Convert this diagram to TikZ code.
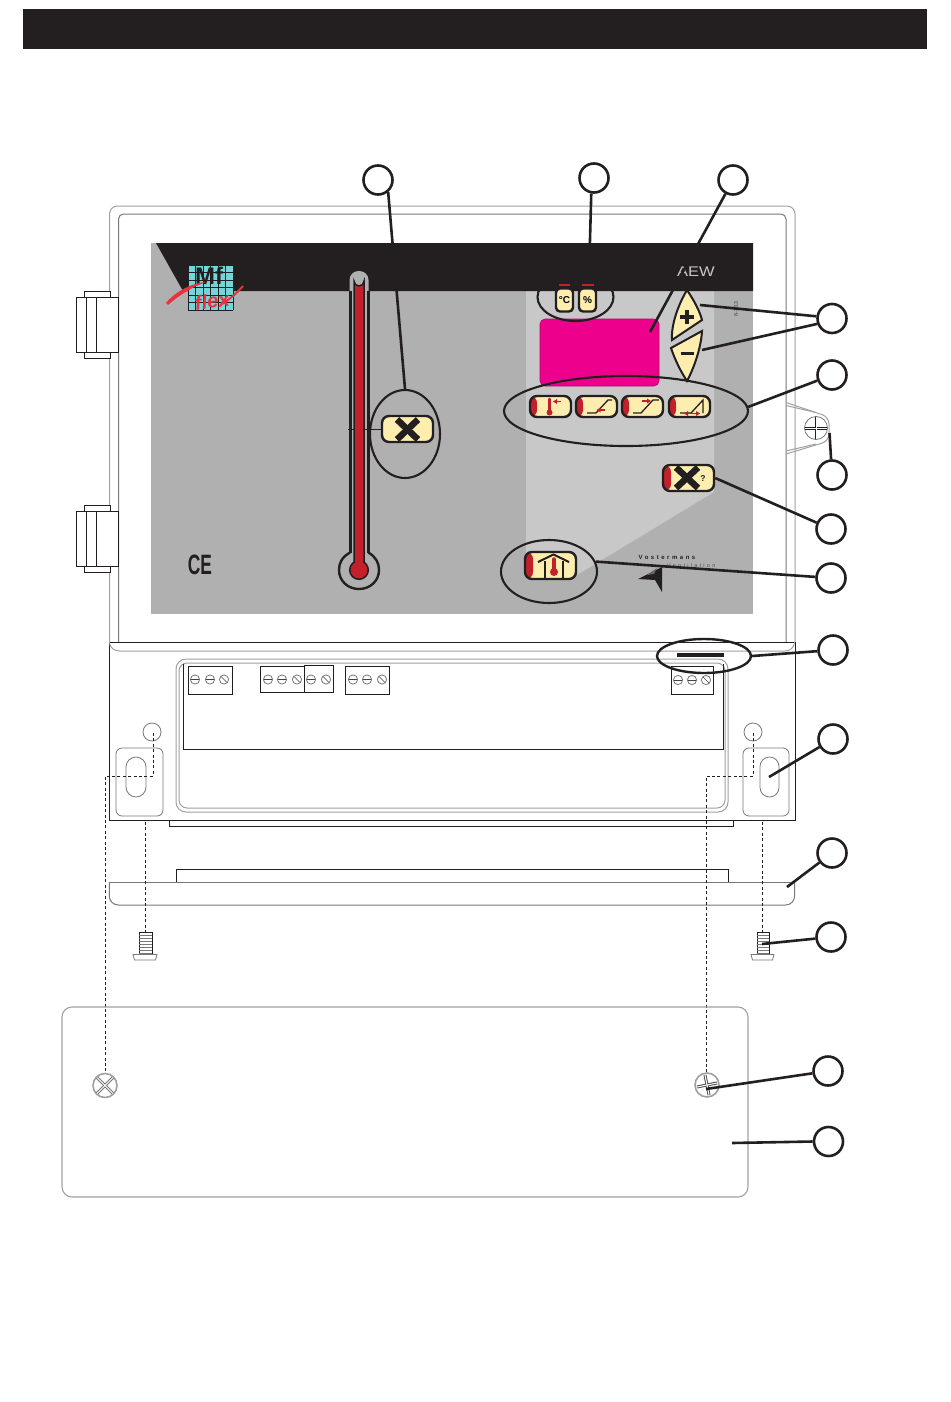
\documentclass[tikz,border=0pt]{standalone}
\usepackage{fontspec}
\setmainfont{Liberation Sans}
\newfontfamily\spaced[LetterSpace=42]{Liberation Sans Bold}
\newfontfamily\spacedlight[LetterSpace=40]{Liberation Sans}
\usetikzlibrary{shapes.geometric,calc}
\definecolor{ink}{HTML}{231F20}
\definecolor{panelgrey}{HTML}{B0B0B0}
\definecolor{panellight}{HTML}{C8C8C8}
\definecolor{btnyellow}{HTML}{FDEEB0}
\definecolor{btnred}{HTML}{C4202C}
\definecolor{logored}{HTML}{E8333F}
\definecolor{logocyan}{HTML}{74D6D8}
\definecolor{lcd}{HTML}{EC008C}
\definecolor{edgegrey}{HTML}{A0A0A0}
\definecolor{edgedark}{HTML}{787878}
\tikzset{
  callout/.style={circle,draw=ink,line width=2.6pt,minimum size=29pt,inner sep=0pt,fill=white},
  lead/.style={draw=ink,line width=2.6pt},
  ring/.style={ellipse,draw=ink,line width=2.1pt,inner sep=0pt},
  btn/.style={draw=ink,line width=2.4pt,fill=btnyellow,rounded corners=7pt,inner sep=0pt},
  redleft/.style={path picture={\fill[btnred] (path picture bounding box.south west) rectangle ([xshift=#1]path picture bounding box.north west);}},
  thin edge/.style={draw=edgegrey,line width=1pt},
  dark edge/.style={draw=edgedark,line width=1pt},
  blackline/.style={draw=ink,line width=.95pt},
  hidden/.style={draw=ink,line width=1pt,dash pattern=on 3pt off 2.4pt},
  block/.style={draw=ink,line width=.95pt,fill=white},
  tscrew/.style={draw=edgedark,line width=.8pt},
  ramp/.style={draw=ink,line width=1.3pt},
  redarrow/.style={draw=btnred,line width=1.2pt},
}
\newcommand\tscr[3]{% x, y, angle of slot
  \draw[tscrew] (#1,#2) circle (4.6);
  \draw[draw=ink!85,line width=.6pt] ($(#1,#2)+(#3:-4)$) -- ($(#1,#2)+(#3:4)$);
}
\newcommand\hatchscrew[4]{% body x1 x2, head x1 x2
  \draw[blackline,fill=white] (#1,932) rectangle (#2,954);
  \foreach \yy in {935,938,...,953} \draw[draw=edgedark,line width=.7pt] (#1,\yy) -- (#2,\yy);
  \draw[dark edge,line width=.8pt] (#3,954.5) -- (#4,954.5) -- (#4-1.5,960) -- (#3+1.5,960) -- cycle;
}
\begin{document}
\begin{tikzpicture}[x=1pt,y=-1pt]
\useasboundingbox (0,0) rectangle (950,1402);
\fill[white] (0,0) rectangle (950,1402);
% title bar
\fill[ink] (23,9) rectangle (927,49);

% door
\draw[thin edge,rounded corners=8pt] (109.5,642) -- (109.5,206) -- (795,206) -- (795,642);
\draw[dark edge,rounded corners=5pt] (118.5,642) -- (118.5,214) -- (786,214) -- (786,642);

% latch
\draw[thin edge,rounded corners=7pt] (786,402.5) -- (829,417) -- (829,441) -- (786,454);
\draw[thin edge] (786,405.5) -- (816,412.5);
\draw[thin edge] (786,451) -- (816,444);

% hinges
\foreach \hy in {297,511}{
  \draw[blackline,fill=white] (84,\hy-6) rectangle (110,\hy+61);
  \draw[blackline,fill=white] (76,\hy) rectangle (118.5,\hy+55);
  \draw[blackline] (86,\hy) -- (86,\hy+55);
  \draw[blackline] (96,\hy) -- (96,\hy+55);
}

% panel
\fill[panelgrey] (151,243) rectangle (753,614);
\fill[panellight] (526,291) -- (714,291) -- (714,492) -- (577,575) -- (526,575) -- cycle;
\fill[ink] (156,243) -- (753,243) -- (753,291) -- (183,291) -- cycle;

% logo
\fill[logocyan] (188,265) rectangle (233,310);
\foreach \g in {0,...,6}{
  \draw[draw=ink,line width=.8pt] (188+\g*7.5,265) -- (188+\g*7.5,310);
  \draw[draw=ink,line width=.8pt] (188,265+\g*7.5) -- (233,265+\g*7.5);
}
\node[inner sep=0pt,text=ink] (mf) at (209,276) {\fontsize{24}{24}\selectfont\bfseries Mf};
\fill[logored] (166,303) .. controls (176,291) and (192,283) .. (206,282) .. controls (192,287) and (178,296) .. (168,305) -- cycle;
\node[inner sep=0pt,text=logored,rotate=8] (flex) at (212,301) {\fontsize{20}{20}\selectfont\bfseries\itshape flex};
\draw[draw=logored,line width=2pt] (222,304) .. controls (230,299) and (237,293) .. (243,286);

% AEW, code
\node[inner sep=0pt,text=panellight] (aew) at (696,272) {\scalebox{1.18}[1]{\fontsize{14}{14}\selectfont AEW}};
\node[inner sep=0pt,text=ink!70,rotate=90] (code) at (736,309) {\fontsize{5.5}{5.5}\selectfont\bfseries 8-3/13};

% display
\node[rectangle,rounded corners=5pt,fill=lcd,draw=lcd!80!black,line width=.6pt,minimum width=119pt,minimum height=67pt,inner sep=0pt] (lcdscr) at (599.5,352.5) {};
\coordinate (lcdpt) at (650,332);

% thermometer
\fill[panelgrey,rounded corners=9pt] (349.5,271) -- (368.5,271) -- (368.5,300) -- (349.5,300) -- cycle;
\fill[panelgrey] (349.5,295) rectangle (368.5,560);
\draw[draw=ink,line width=3pt] (350,291) -- (350,553);
\draw[draw=ink,line width=3pt] (368.5,291) -- (368.5,553);
\fill[panelgrey] (359,570) circle (18);
\fill[panelgrey] (351.5,545) rectangle (367,560);
\draw[draw=ink,line width=2.4pt] (350,552.6) .. controls (342,557) and (339,563) .. (339,570) .. controls (339,581) and (348,589) .. (359,589) .. controls (370,589) and (379,581) .. (379,570) .. controls (379,563) and (376,557) .. (368.5,552.6);
\draw[draw=ink,line width=1.5pt,fill=btnred] (354,562) -- (354,281) arc[start angle=180,end angle=0,radius=5] -- (364,562);
\filldraw[draw=ink,line width=1.5pt,fill=btnred] (359,570) circle (9.3);
\fill[btnred] (354.8,555) rectangle (363.2,566);
\draw[draw=ink,line width=1.5pt] (348,429.5) -- (353.5,429.5);
\draw[draw=ink,line width=1.5pt] (364.5,429.5) -- (384,429.5);

% fan button
\node[btn,minimum width=51pt,minimum height=26pt] (bfan) at (407.5,429) {};
\draw[draw=ink,line width=6.5pt] (397,419.5) -- (418,439.5);
\draw[draw=ink,line width=6.5pt] (418,419.5) -- (397,439.5);
\node[ring,minimum width=70pt,minimum height=88pt] (efan) at (405,434) {};

% C and % buttons
\draw[draw=btnred,line width=1.6pt] (559,285) -- (570,285);
\draw[draw=btnred,line width=1.6pt] (582,285) -- (594,285);
\node[btn,minimum width=17pt,minimum height=23pt,rounded corners=4pt] (bc) at (564.5,300) {\fontsize{10}{10}\selectfont\bfseries °C};
\node[btn,minimum width=17pt,minimum height=23pt,rounded corners=4pt] (bp) at (587.5,300) {\fontsize{10}{10}\selectfont\bfseries\%};
\begin{scope}
\clip (530,291) rectangle (620,330);
\node[ring,minimum width=76pt,minimum height=48pt] (ecf) at (575.5,297) {};
\end{scope}

% plus, minus
\draw[draw=ink,line width=2pt,fill=btnyellow] (687,290) .. controls (695,302) and (700,312) .. (702,320) -- (672,340) .. controls (671,325) and (678,305) .. (687,290) -- cycle;
\draw[draw=ink,line width=3.6pt] (680,317) -- (694,317);
\draw[draw=ink,line width=3.6pt] (687,310) -- (687,324);
\draw[draw=ink,line width=2pt,fill=btnyellow] (702,331) -- (671,348) .. controls (675,360) and (681,372) .. (687,381) .. controls (694,368) and (701,348) .. (702,331) -- cycle;
\draw[draw=ink,line width=3.2pt] (680.5,353.5) -- (693.5,353.5);
\coordinate (pluspt) at (700,305);
\coordinate (minuspt) at (702,350);

% mode buttons
\node[btn,redleft=7pt,minimum width=41pt,minimum height=21pt] (m1) at (550.5,406.5) {};
\node[btn,redleft=7pt,minimum width=41pt,minimum height=21pt] (m2) at (596.5,406.5) {};
\node[btn,redleft=7pt,minimum width=41pt,minimum height=21pt] (m3) at (642.5,406.5) {};
\node[btn,redleft=7pt,minimum width=41pt,minimum height=21pt] (m4) at (689.5,406.5) {};
% icons
\draw[draw=btnred,line width=2.6pt,line cap=round] (549.5,399) -- (549.5,412);
\fill[btnred] (549.5,412.5) circle (3);
\draw[redarrow] (555,401.5) -- (561,401.5);
\fill[btnred] (553,401.5) -- (557,399) -- (557,404) -- cycle;
\draw[ramp] (587,413) -- (596,413) -- (608,400) -- (612,400);
\draw[redarrow] (599,410) -- (605,410);
\fill[btnred] (596.5,410) -- (600.5,407.5) -- (600.5,412.5) -- cycle;
\draw[ramp] (633,413) -- (641,413) -- (653,400) -- (659,400);
\draw[redarrow] (642,401) -- (648,401);
\fill[btnred] (651,401) -- (647,398.5) -- (647,403.5) -- cycle;
\draw[ramp] (680,413) -- (691,413) -- (703,400) -- (703,413);
\draw[redarrow] (686,413.5) -- (698,413.5);
\fill[btnred] (684,413.5) -- (688,411) -- (688,416) -- cycle;
\fill[btnred] (700,413.5) -- (696,411) -- (696,416) -- cycle;
\node[ring,minimum width=244pt,minimum height=70pt] (emodes) at (626,411) {};
\coordinate (modespt) at (748,407);

% fan? button
\node[btn,redleft=8pt,minimum width=51pt,minimum height=26pt] (bq) at (688.5,478) {};
\draw[draw=ink,line width=6.5pt] (676,467.5) -- (698,488);
\draw[draw=ink,line width=6.5pt] (698,467.5) -- (676,488);
\node[inner sep=0pt,text=ink] (qm) at (703,478.5) {\fontsize{8.5}{8.5}\selectfont\bfseries ?};

% home button
\node[btn,redleft=8pt,minimum width=51pt,minimum height=27pt] (bhome) at (550.5,565.5) {};
\draw[draw=ink,line width=2pt] (538,562) -- (553.5,554.5) -- (569,562);
\draw[draw=ink,line width=2pt] (545,561) -- (545,578);
\draw[draw=ink,line width=2pt] (563,561) -- (563,578);
\draw[draw=btnred,line width=3.4pt,line cap=round] (554,559) -- (554,572);
\fill[btnred] (554,572) circle (4);
\node[ring,minimum width=96pt,minimum height=63pt] (ehome) at (549,571.5) {};

% CE
\node[inner sep=0pt,text=ink] (ce) at (200,564.5) {\scalebox{.62}[1]{\fontsize{28}{28}\selectfont\bfseries CE}};

% Vostermans
\node[inner sep=0pt,text=ink,anchor=west] (vos) at (638.5,557) {\fontsize{6}{6}\selectfont\spaced Vostermans};
\node[inner sep=0pt,text=ink!75,anchor=west] (ven) at (667,565.5) {\fontsize{5.6}{5.6}\selectfont\spacedlight Ventilation};
\fill[ink] (662,567) -- (638,579) -- (655,580) -- (662,592) -- cycle;
\fill[ink!70] (647,575) -- (657,568) -- (654,574) -- cycle;

% lower box
\draw[blackline] (109.3,642) rectangle (795,820);
\draw[thin edge] (109.3,642) .. controls (110,648) and (114,651) .. (120,651) -- (785,651) .. controls (790,651) and (794,648) .. (794.6,642);
\draw[thin edge,rounded corners=10pt] (176,659) rectangle (728,812);
\draw[thin edge,rounded corners=8pt] (179,663) rectangle (725,808);
\draw[blackline] (183,664) -- (183,749) -- (723,749) -- (723,664);
\draw[blackline] (169,820) -- (169,826) -- (733,826) -- (733,820);
% terminals
\node[block,minimum width=44pt,minimum height=28pt,inner sep=0pt] (t1) at (210,680) {};
\node[block,minimum width=44pt,minimum height=26pt,inner sep=0pt] (t2) at (282,679) {};
\node[block,minimum width=29pt,minimum height=27pt,inner sep=0pt] (t3) at (318.5,678.5) {};
\node[block,minimum width=44pt,minimum height=28pt,inner sep=0pt] (t4) at (367,680) {};
\node[block,minimum width=42pt,minimum height=28pt,inner sep=0pt] (t5) at (692,680) {};
\tscr{195}{679.5}{0}\tscr{210}{679.5}{0}\tscr{224}{679.5}{45}
\tscr{268}{679.5}{0}\tscr{282}{679.5}{0}\tscr{297}{679.5}{45}
\tscr{311}{679.5}{0}\tscr{326}{679.5}{45}
\tscr{353}{679.5}{0}\tscr{367}{679.5}{0}\tscr{382}{679.5}{45}
\tscr{678}{680}{0}\tscr{692}{680}{0}\tscr{706}{680}{45}
% black marker
\draw[draw=ink,fill=ink] (677,653.5) rectangle (723,656.5);
\node[ring,line width=2.4pt,minimum width=94pt,minimum height=34pt] (emark) at (704,656) {};
% mounting slots
\draw[dark edge,line width=.8pt,rounded corners=6pt] (116,748) rectangle (163,816);
\draw[dark edge,line width=.8pt,rounded corners=10pt] (126,757) rectangle (146,797);
\draw[dark edge,line width=.8pt] (152,732) circle (9);
\draw[dark edge,line width=.8pt,rounded corners=6pt] (743,748) rectangle (789,816);
\draw[dark edge,line width=.8pt,rounded corners=9.5pt] (760,757) rectangle (779,797);
\draw[dark edge,line width=.8pt] (753,732) circle (9);
\coordinate (slotpt) at (769,777);

% cover strip
\draw[blackline] (176.5,882) -- (176.5,869) -- (728,869) -- (728,882);
\draw[dark edge,rounded corners=9pt] (109.3,882) -- (109.3,905) -- (794.6,905) -- (794.6,882);
\draw[dark edge] (109.3,882) -- (794.6,882);
\coordinate (strippt) at (787,887);

% screws
\hatchscrew{139}{152}{133}{157}
\hatchscrew{757}{769}{751}{774}
\coordinate (screwpt) at (762,944);

% hidden lines
\draw[hidden] (153,733) -- (153,776) -- (105,776) -- (105,1072);
\draw[hidden] (145.5,822) -- (145.5,932);
\draw[hidden] (753,733) -- (753,776) -- (706,776) -- (706,1072);
\draw[hidden] (762,822) -- (762,932);

% plate
\draw[draw=edgegrey,line width=1.1pt,rounded corners=10pt] (62,1007) rectangle (748,1197);
\coordinate (platept) at (732,1143);
% plate screws
\draw[draw=edgegrey,line width=1.6pt] (105,1085.5) circle (12);
\draw[draw=edgedark,line width=3pt] (97,1077.5) -- (113,1093.5);
\draw[draw=edgedark,line width=3pt] (113,1077.5) -- (97,1093.5);
\draw[draw=white,line width=1pt] (97,1077.5) -- (113,1093.5);
\draw[draw=white,line width=1pt] (113,1077.5) -- (97,1093.5);
\draw[draw=edgegrey,line width=1.6pt] (707,1085) circle (12);
\draw[draw=ink!80,line width=3pt] (697,1087) -- (717,1083);
\draw[draw=ink!80,line width=3pt] (705,1075) -- (709,1095);
\draw[draw=white,line width=1pt] (697,1087) -- (717,1083);
\draw[draw=white,line width=1pt] (705,1075) -- (709,1095);
\coordinate (platescrew) at (706,1089);
% latch screw
\draw[dark edge,line width=.8pt] (816,428) circle (11.5);
\draw[draw=ink,line width=2.4pt] (805,428.5) -- (827,428.5);
\draw[draw=ink,line width=2.4pt] (816,417) -- (816,439);
\draw[draw=white,line width=.8pt] (805,428.5) -- (827,428.5);
\draw[draw=white,line width=.8pt] (816,417) -- (816,439);
\coordinate (latchpt) at (829.5,433);

% callouts
\node[callout] (c1) at (378,180) {};
\node[callout] (c2) at (594,178) {};
\node[callout] (c3) at (733,180) {};
\node[callout] (c4) at (832,318.5) {};
\node[callout] (c5) at (832,375) {};
\node[callout] (c6) at (832,475) {};
\node[callout] (c7) at (831,529) {};
\node[callout] (c8) at (831,578) {};
\node[callout] (c9) at (833,650) {};
\node[callout] (c10) at (833,739) {};
\node[callout] (c11) at (832,853) {};
\node[callout] (c12) at (831,937) {};
\node[callout] (c13) at (828,1071) {};
\node[callout] (c14) at (828.5,1141.5) {};

% leaders
\draw[lead] (c1.-50) -- (efan.north);
\draw[lead] (c2.-100) -- (ecf.60);
\draw[lead] (c3) -- (lcdpt);
\draw[lead] (c4.172) -- (pluspt);
\draw[lead] (c4.200) -- (minuspt);
\draw[lead] (c5) -- (modespt);
\draw[lead] (c6) -- (latchpt);
\draw[lead] (c7) -- (bq.east);
\draw[lead] (c8) -- (ehome.12);
\draw[lead] (c9) -- (emark.east);
\draw[lead] (c10) -- (slotpt);
\draw[lead] (c11) -- (strippt);
\draw[lead] (c12) -- (screwpt);
\draw[lead] (c13) -- (platescrew);
\draw[lead] (c14.180) -- (platept);
\end{tikzpicture}
\end{document}
